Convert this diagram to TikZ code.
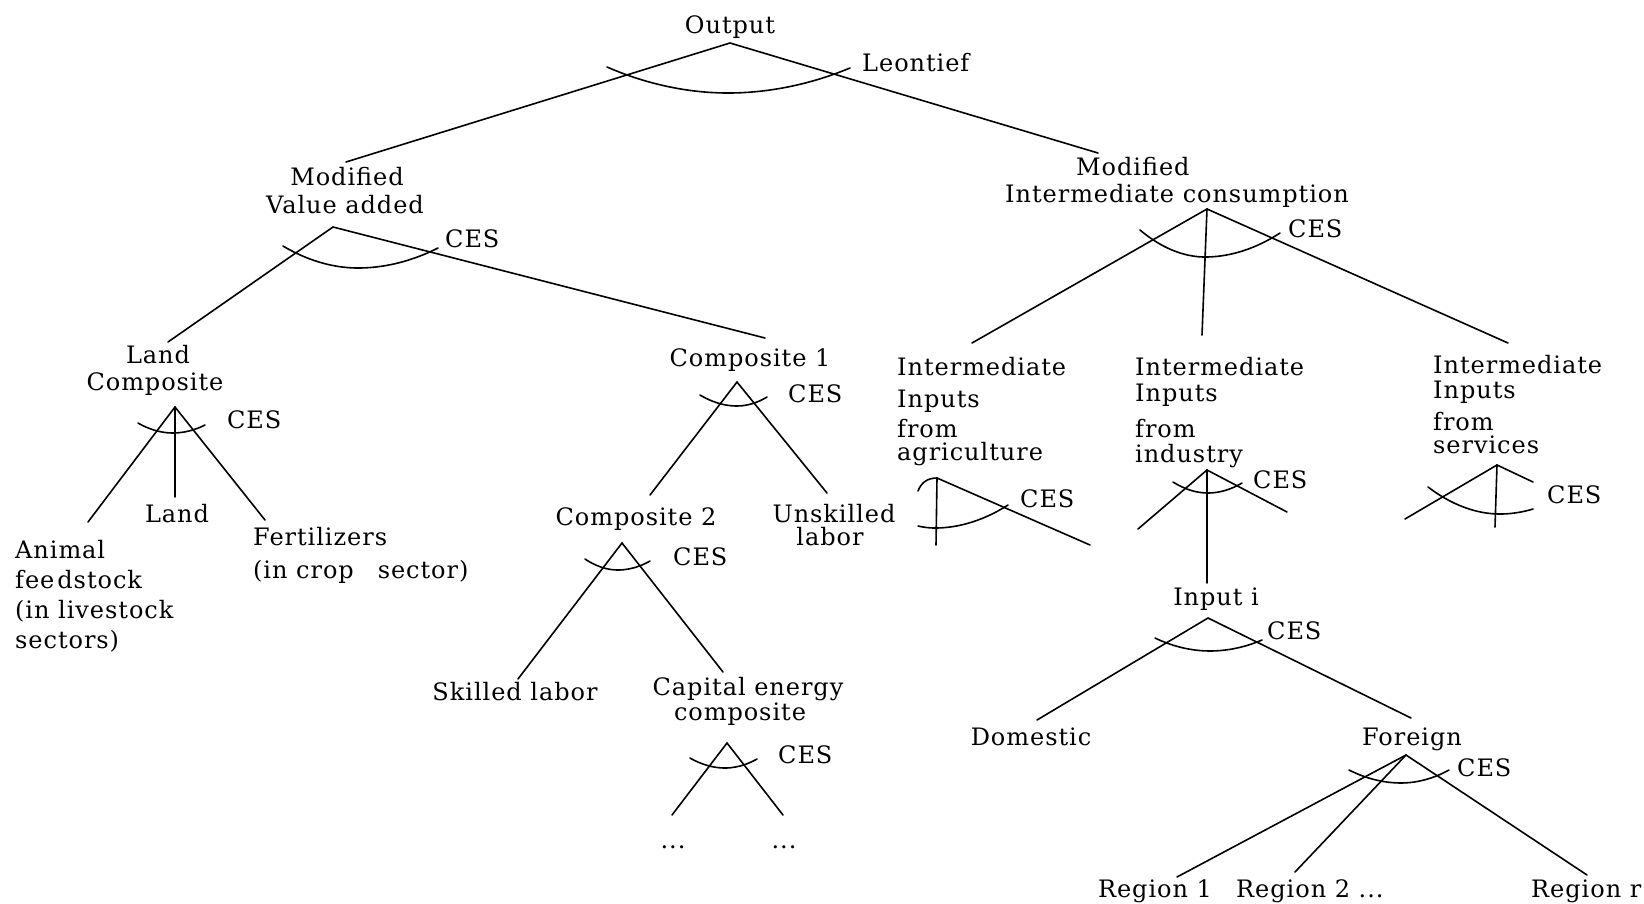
\documentclass[tikz,border=0pt]{standalone}
\usepackage{fontspec}
\setmainfont{DejaVu Serif}[LetterSpace=4.0]
\begin{document}
\begin{tikzpicture}[x=1pt,y=-1pt,
  lbl/.style={inner sep=0pt, anchor=base, font=\fontsize{24}{28}\selectfont},
  lblw/.style={lbl, anchor=base west},
  edgeline/.style={line width=1.6pt, line cap=round},
  cesarc/.style={line width=1.6pt, line cap=round}]
\useasboundingbox (0,0) rectangle (1644,903);

% ---------- labels ----------
\node[lbl]  (out)   at (730,33)  {Output};
\node[lblw] (leon)  at (862,71)  {Leontief};

\node[lbl]  (mva1)  at (347,185) {Modified};
\node[lbl]  (mva2)  at (345,213) {Value added};
\node[lblw] (cesmva) at (445,247) {CES};

\node[lblw] (mic1)  at (1076,175) {Modified};
\node[lblw] (mic2)  at (1005,202) {Intermediate consumption};
\node[lblw] (cesmic) at (1288,237) {CES};

\node[lbl]  (lc1)   at (158,363) {Land};
\node[lbl]  (lc2)   at (155,390) {Composite};
\node[lblw] (ceslc) at (227,428) {CES};
\node[lbl]  (land)  at (177,522) {Land};
\node[lblw] (fert1) at (253,545) {Fertilizers};
\node[lblw] (fert2) at (253,578) {(in crop\hspace{24pt}sector)};
\node[lblw] (anim1) at (15,558)  {Animal};
\node[lblw] (anim2) at (15,588)  {fee\kern3pt dstock};
\node[lblw] (anim3) at (15,618)  {(in livestock};
\node[lblw] (anim4) at (15,648)  {sectors)};

\node[lbl]  (c1)    at (750,366) {Composite 1};
\node[lblw] (cesc1) at (788,402) {CES};
\node[lbl]  (c2)    at (636,525) {Composite 2};
\node[lblw] (cesc2) at (673,565) {CES};
\node[lbl]  (unsk1) at (834,522) {Unskilled};
\node[lbl]  (unsk2) at (830,545) {labor};
\node[lbl]  (skl)   at (515,700) {Skilled labor};
\node[lbl]  (cap1)  at (748,695) {Capital energy};
\node[lbl]  (cap2)  at (740,720) {composite};
\node[lblw] (cescap) at (778,763) {CES};
\node[lbl]  (dots1) at (673,848) {...};
\node[lbl]  (dots2) at (784,848) {...};

\node[lblw] (agr1)  at (897,375) {Intermediate};
\node[lblw] (agr2)  at (897,407) {Inputs};
\node[lblw] (agr3)  at (897,437) {from};
\node[lblw] (agr4)  at (897,460) {agriculture};
\node[lblw] (cesagr) at (1020,507) {CES};

\node[lblw] (ind1)  at (1135,375) {Intermediate};
\node[lblw] (ind2)  at (1135,401) {Inputs};
\node[lblw] (ind3)  at (1135,437) {from};
\node[lblw] (ind4)  at (1135,462) {industry};
\node[lblw] (cesind) at (1253,488) {CES};

\node[lblw] (srv1)  at (1433,373) {Intermediate};
\node[lblw] (srv2)  at (1433,398) {Inputs};
\node[lblw] (srv3)  at (1433,430) {from};
\node[lblw] (srv4)  at (1433,453) {services};
\node[lblw] (cessrv) at (1547,503) {CES};

\node[lbl]  (inp)   at (1216,605) {Input i};
\node[lblw] (cesinp) at (1267,639) {CES};
\node[lbl]  (dom)   at (1031,745) {Domestic};
\node[lbl]  (for)   at (1412,745) {Foreign};
\node[lblw] (cesfor) at (1457,776) {CES};
\node[lbl]  (r1)    at (1155,897) {Region 1};
\node[lblw] (r2)    at (1236,897) {Region 2 ...};
\node[lblw] (rr)    at (1531,897) {Region r};

% ---------- branching points ----------
\coordinate (a-out) at (730,43);
\coordinate (a-mva) at (333,227);
\coordinate (a-mic) at (1207,209);
\coordinate (a-lc)  at (175,407);
\coordinate (a-c1)  at (737,382);
\coordinate (a-c2)  at (622,543);
\coordinate (a-cap) at (727,743);
\coordinate (a-agr) at (937,478);
\coordinate (a-ind) at (1207,470);
\coordinate (a-srv) at (1497,465);
\coordinate (a-inp) at (1208,618);
\coordinate (a-for) at (1406,755);

% ---------- branch ends ----------
\coordinate (t-mva)  at (346,162);
\coordinate (t-mic)  at (1098,153);
\coordinate (t-lc)   at (168,342);
\coordinate (t-c1)   at (765,338);
\coordinate (t-agr)  at (972,343);
\coordinate (t-ind)  at (1202,335);
\coordinate (t-srv)  at (1508,343);
\coordinate (t-anim) at (88,522);
\coordinate (t-land) at (175,497);
\coordinate (t-fert) at (265,520);
\coordinate (t-c2)   at (650,495);
\coordinate (t-unsk) at (827,493);
\coordinate (t-skl)  at (518,679);
\coordinate (t-cap)  at (723,672);
\coordinate (t-d1)   at (672,815);
\coordinate (t-d2)   at (783,815);
\coordinate (t-agrv) at (936,545);
\coordinate (t-agrr) at (1090,545);
\coordinate (t-indl) at (1138,529);
\coordinate (t-inp)  at (1207,583);
\coordinate (t-indr) at (1287,512);
\coordinate (t-srvl) at (1405,519);
\coordinate (t-srvv) at (1495,527);
\coordinate (t-srvr) at (1533,482);
\coordinate (t-dom)  at (1037,720);
\coordinate (t-for)  at (1411,718);
\coordinate (t-r1)   at (1177,877);
\coordinate (t-r2)   at (1295,872);
\coordinate (t-rr)   at (1587,875);

% ---------- branches ----------
\draw[edgeline] (t-mva) -- (a-out) -- (t-mic);
\draw[edgeline] (t-lc) -- (a-mva) -- (t-c1);
\draw[edgeline] (t-agr) -- (a-mic) -- (t-srv);
\draw[edgeline] (a-mic) -- (t-ind);
\draw[edgeline] (t-anim) -- (a-lc) -- (t-fert);
\draw[edgeline] (a-lc) -- (t-land);
\draw[edgeline] (t-c2) -- (a-c1) -- (t-unsk);
\draw[edgeline] (t-skl) -- (a-c2) -- (t-cap);
\draw[edgeline] (t-d1) -- (a-cap) -- (t-d2);
\draw[edgeline] (t-agrv) -- (a-agr) -- (t-agrr);
\draw[edgeline] (a-agr) .. controls (927,478) and (921,483) .. (918,491);
\draw[edgeline] (t-indl) -- (a-ind) -- (t-indr);
\draw[edgeline] (a-ind) -- (t-inp);
\draw[edgeline] (t-srvl) -- (a-srv) -- (t-srvr);
\draw[edgeline] (a-srv) -- (t-srvv);
\draw[edgeline] (t-dom) -- (a-inp) -- (t-for);
\draw[edgeline] (t-r1) -- (a-for) -- (t-rr);
\draw[edgeline] (a-for) -- (t-r2);

% ---------- elasticity arcs ----------
\draw[cesarc] (607,67)   parabola bend (728,93)   (850,68);
\draw[cesarc] (283,246)  parabola bend (358,268)  (438,248);
\draw[cesarc] (1140,230) parabola bend (1205,257) (1280,233);
\draw[cesarc] (138,423)  parabola bend (173,433)  (205,425);
\draw[cesarc] (700,395)  parabola bend (737,406)  (767,397);
\draw[cesarc] (585,559)  parabola bend (618,570)  (650,561);
\draw[cesarc] (690,758)  parabola bend (725,768)  (757,759);
\draw[cesarc] (918,526)  parabola bend (935,528)  (1008,505);
\draw[cesarc] (1173,482) parabola bend (1208,493) (1242,483);
\draw[cesarc] (1428,487) parabola bend (1500,514) (1533,509);
\draw[cesarc] (1155,638) parabola bend (1210,651) (1262,640);
\draw[cesarc] (1349,770) parabola bend (1401,783) (1449,770);
\end{tikzpicture}
\end{document}
